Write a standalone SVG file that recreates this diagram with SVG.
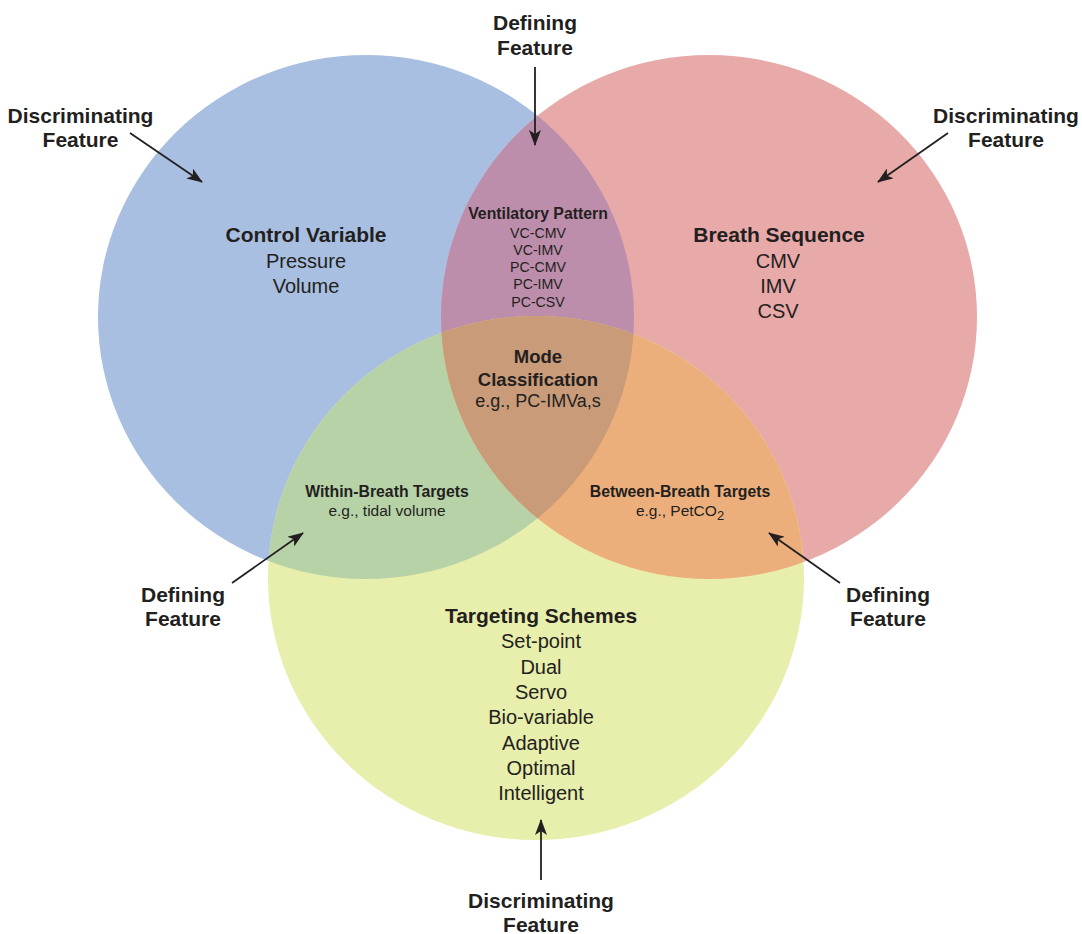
<svg xmlns="http://www.w3.org/2000/svg" width="1082" height="934" viewBox="0 0 1082 934">
<style>
text{font-family:"Liberation Sans",Arial,sans-serif;fill:#231f20;text-anchor:middle}
.lb{font-weight:bold;font-size:21px}
.h{font-weight:bold;font-size:21px}
.r{font-size:20px}
.hm{font-weight:bold;font-size:18.5px}
.rm{font-size:18px}
.hs{font-weight:bold;font-size:15.8px}
.rs{font-size:14.2px}
.rt{font-size:15.5px}
.conn line{stroke:#231f20;stroke-width:1.8;fill:none}
</style>
<defs>
<clipPath id="cBlue"><ellipse cx="366" cy="317" rx="268" ry="262"/></clipPath>
<clipPath id="cRed"><ellipse cx="709" cy="317" rx="268" ry="262"/></clipPath>
<marker id="ah" viewBox="0 0 16 12" refX="15" refY="6" markerWidth="16" markerHeight="12" markerUnits="userSpaceOnUse" orient="auto">
<path d="M0,0 L16,6 L0,12 L4,6 Z" fill="#231f20"/>
</marker>
</defs>
<g id="circle-control-variable">
<ellipse cx="366" cy="317" rx="268" ry="262" fill="#a8bfe1"/>
</g>
<g id="circle-breath-sequence">
<ellipse cx="709" cy="317" rx="268" ry="262" fill="#e8a9a9"/>
</g>
<g id="circle-targeting-schemes">
<ellipse cx="536" cy="578" rx="268" ry="262" fill="#e8eeab"/>
</g>
<g id="overlap-ventilatory-pattern">
<ellipse cx="709" cy="317" rx="268" ry="262" fill="#bd8eab" clip-path="url(#cBlue)"/>
</g>
<g id="overlap-within-breath">
<ellipse cx="536" cy="578" rx="268" ry="262" fill="#b8d2a8" clip-path="url(#cBlue)"/>
</g>
<g id="overlap-between-breath">
<ellipse cx="536" cy="578" rx="268" ry="262" fill="#ecaf7c" clip-path="url(#cRed)"/>
</g>
<g id="overlap-mode-classification">
<g clip-path="url(#cRed)">
<ellipse cx="536" cy="578" rx="268" ry="262" fill="#c99b78" clip-path="url(#cBlue)"/>
</g>
</g>
<g id="label-control-variable">
<text class="h" x="306" y="242">Control Variable</text>
<text class="r" x="306" y="268">Pressure</text>
<text class="r" x="306" y="293">Volume</text>
</g>
<g id="label-breath-sequence">
<text class="h" x="779" y="242">Breath Sequence</text>
<text class="r" x="778" y="268">CMV</text>
<text class="r" x="778" y="293">IMV</text>
<text class="r" x="778" y="318">CSV</text>
</g>
<g id="label-ventilatory-pattern">
<text class="hs" x="538" y="219">Ventilatory Pattern</text>
<text class="rs" x="538" y="238">VC-CMV</text>
<text class="rs" x="538" y="255">VC-IMV</text>
<text class="rs" x="538" y="272">PC-CMV</text>
<text class="rs" x="538" y="289">PC-IMV</text>
<text class="rs" x="538" y="307">PC-CSV</text>
</g>
<g id="label-mode-classification">
<text class="hm" x="538" y="363">Mode</text>
<text class="hm" x="538" y="386">Classification</text>
<text class="rm" x="538" y="407">e.g., PC-IMVa,s</text>
</g>
<g id="label-within-breath">
<text class="hs" x="387" y="497">Within-Breath Targets</text>
<text class="rt" x="387" y="516">e.g., tidal volume</text>
</g>
<g id="label-between-breath">
<text class="hs" x="680" y="497">Between-Breath Targets</text>
<text class="rt" x="680" y="516">e.g., PetCO<tspan font-size="13px" dy="4">2</tspan></text>
</g>
<g id="label-targeting-schemes">
<text class="h" x="541" y="623">Targeting Schemes</text>
<text class="r" x="541" y="648">Set-point</text>
<text class="r" x="541" y="674">Dual</text>
<text class="r" x="541" y="699">Servo</text>
<text class="r" x="541" y="724">Bio-variable</text>
<text class="r" x="541" y="750">Adaptive</text>
<text class="r" x="541" y="775">Optimal</text>
<text class="r" x="541" y="800">Intelligent</text>
</g>
<g id="note-top-defining">
<text class="lb" x="535" y="30">Defining</text>
<text class="lb" x="535" y="55">Feature</text>
</g>
<g id="note-left-discriminating">
<text class="lb" x="80.5" y="123">Discriminating</text>
<text class="lb" x="80.5" y="147">Feature</text>
</g>
<g id="note-right-discriminating">
<text class="lb" x="1006" y="123">Discriminating</text>
<text class="lb" x="1006" y="147">Feature</text>
</g>
<g id="note-left-defining">
<text class="lb" x="183" y="602">Defining</text>
<text class="lb" x="183" y="626">Feature</text>
</g>
<g id="note-right-defining">
<text class="lb" x="888" y="602">Defining</text>
<text class="lb" x="888" y="626">Feature</text>
</g>
<g id="note-bottom-discriminating">
<text class="lb" x="541" y="908">Discriminating</text>
<text class="lb" x="541" y="932">Feature</text>
</g>
<g id="connectors" class="conn">
<line x1="535" y1="67" x2="535" y2="145" marker-end="url(#ah)"/>
<line x1="130" y1="133" x2="202" y2="182" marker-end="url(#ah)"/>
<line x1="948" y1="133" x2="878" y2="182" marker-end="url(#ah)"/>
<line x1="232" y1="583" x2="303" y2="533" marker-end="url(#ah)"/>
<line x1="840" y1="583" x2="769" y2="533" marker-end="url(#ah)"/>
<line x1="541" y1="880" x2="541" y2="820" marker-end="url(#ah)"/>
</g>
</svg>
